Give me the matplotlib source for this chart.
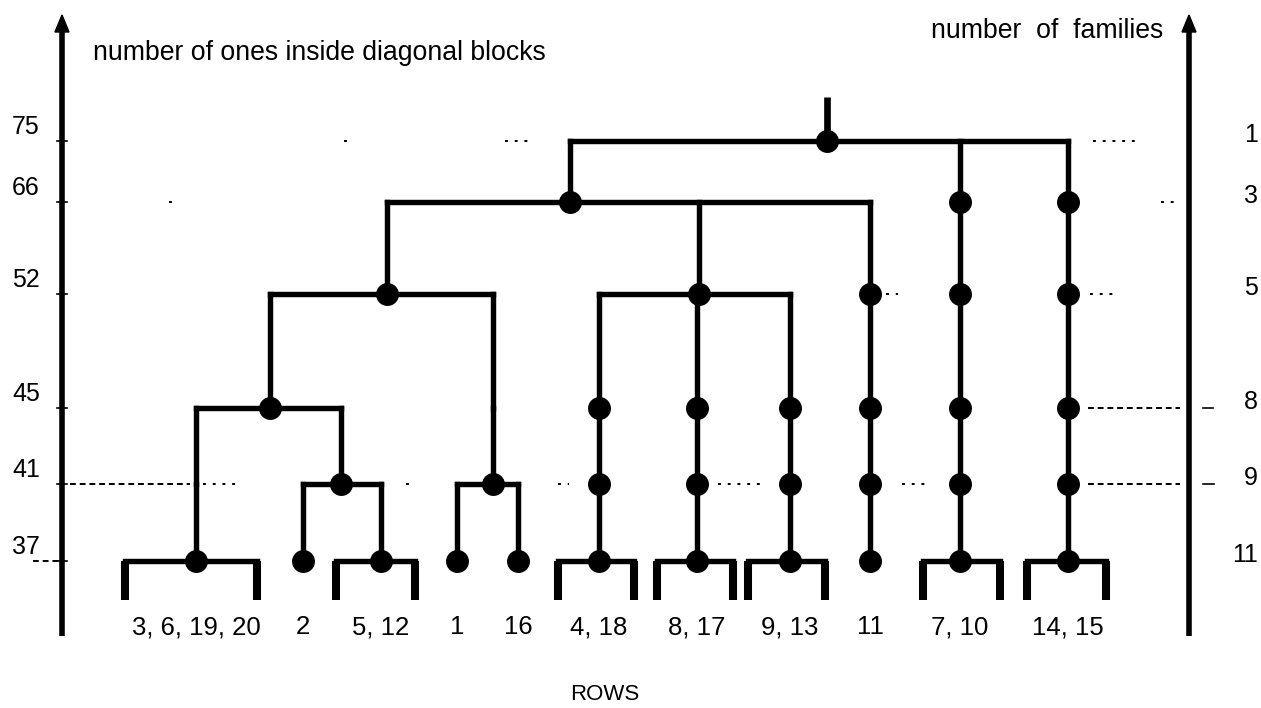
import matplotlib
matplotlib.use("Agg")
import matplotlib.pyplot as plt
from matplotlib.patches import Polygon

plt.rcParams['font.family'] = ['Liberation Sans', 'DejaVu Sans']

# ---------------- data ----------------
levels = [75, 66, 52, 45, 41, 37]            # number of ones inside diagonal blocks
families = [1, 3, 5, 8, 9, 11]               # number of families at each level
leaf_labels = ["3, 6, 19, 20", "2", "5, 12", "1", "16", "4, 18",
               "8, 17", "9, 13", "11", "7, 10", "14, 15"]
# partition of the leaves (row groups) at each level
part_75 = [[0, 1, 2, 3, 4, 5, 6, 7, 8, 9, 10]]
part_66 = [[0, 1, 2, 3, 4, 5, 6, 7, 8], [9], [10]]
part_52 = [[0, 1, 2, 3, 4], [5, 6, 7], [8], [9], [10]]
part_45 = [[0, 1, 2], [3, 4], [5], [6], [7], [8], [9], [10]]
part_41 = [[0], [1, 2], [3, 4], [5], [6], [7], [8], [9], [10]]
part_37 = [[i] for i in range(len(leaf_labels))]
partitions = [part_75, part_66, part_52, part_45, part_41, part_37]
# clusters drawn without a dot at a level
no_dot = [(41, (0,)), (45, (3, 4))]

# ---------------- layout (pixels) ----------------
W, H = 1261, 708
level_y = [141, 202, 294, 408, 484, 561]
leaf_x = [196, 303, 381, 457, 518, 599, 697, 790, 870, 960, 1068]
bracket_span = [(125, 257), None, (336, 415), None, None, (558, 634),
                (657, 733), (748, 825), None, (923, 1000), (1027, 1106)]
node_x_fix = {(41, (1, 2)): 341, (41, (3, 4)): 493, (45, (0, 1, 2)): 270,
              (52, (0, 1, 2, 3, 4)): 387, (52, (5, 6, 7)): 699,
              (66, (0, 1, 2, 3, 4, 5, 6, 7, 8)): 570,
              (75, tuple(range(11))): 827}
leg_bottom = 600
stub_top = 97
left_ax_x, right_ax_x = 62, 1189
ax_bottom, ax_top = 636, 15

fig = plt.figure(figsize=(W / 100, H / 100), dpi=100)
ax = fig.add_axes([0, 0, 1, 1])
ax.set_xlim(0, W)
ax.set_ylim(H, 0)
ax.axis('off')

LW = 3.9
ypos = dict(zip(levels, level_y))

# node positions
node = {}
for i, x in enumerate(leaf_x):
    node[(levels[-1], (i,))] = x
for li in range(len(levels) - 2, -1, -1):
    lv, lo = levels[li], levels[li + 1]
    for cl in partitions[li]:
        key = (lv, tuple(cl))
        kids = [tuple(c) for c in partitions[li + 1] if set(c) <= set(cl)]
        kx = [node[(lo, k)] for k in kids]
        if len(kids) == 1:
            node[key] = kx[0]
        else:
            node[key] = node_x_fix.get(key, (min(kx) + max(kx)) / 2)
        for x in kx:
            ax.plot([x, x], [ypos[lo], ypos[lv]], color='black', lw=LW,
                    solid_capstyle='projecting', zorder=2)
        if len(kids) > 1:
            ax.plot([min(kx), max(kx)], [ypos[lv], ypos[lv]], color='black',
                    lw=LW, solid_capstyle='projecting', zorder=2)

# dots
for (lv, cl), x in node.items():
    if (lv, cl) in no_dot:
        continue
    ax.plot([x], [ypos[lv]], marker='o', ms=15.5, color='black', zorder=3)

# top stub
top_x = node[(levels[0], tuple(range(11)))]
ax.plot([top_x, top_x], [ypos[levels[0]], stub_top], color='black', lw=4.8,
        solid_capstyle='butt', zorder=2)

# leaf brackets
yb = ypos[levels[-1]]
for span in bracket_span:
    if span is None:
        continue
    l, r = span
    ax.plot([l, r], [yb, yb], color='black', lw=LW, solid_capstyle='projecting')
    for x in (l, r):
        ax.plot([x, x], [yb, leg_bottom], color='black', lw=5.8,
                solid_capstyle='butt')

# leaf labels
for x, lab in zip(leaf_x, leaf_labels):
    ax.text(x, 627, lab, ha='center', va='center', fontsize=18.5)

# vertical axes with arrows
for xa in (left_ax_x, right_ax_x):
    ax.plot([xa, xa], [ax_bottom, ax_top + 12], color='black', lw=4.0,
            solid_capstyle='butt')
    ax.add_patch(Polygon([[xa - 7, ax_top + 17], [xa, ax_top], [xa + 7, ax_top + 17]],
                         closed=True, color='black'))

# small ticks on left axis
for y in level_y:
    ax.plot([left_ax_x - 5, left_ax_x + 5], [y, y], color='black', lw=1.2)

# level value labels (left) and family counts (right)
for y, v in zip(level_y, levels):
    ax.text(12, y - 14, str(v), ha='left', va='center', fontsize=18)
for y, f in zip(level_y, families):
    ax.text(1258, y - 6, str(f), ha='right', va='center', fontsize=18)

# faint dashed / dotted guide remnants (level, x0, x1, style)
guides = [(75, 344, 348, ':'), (75, 505, 531, ':'), (75, 1093, 1139, ':'),
          (66, 169, 173, ':'), (66, 1161, 1175, ':'),
          (52, 886, 898, ':'), (52, 1090, 1115, ':'),
          (45, 1088, 1180, '--'), (45, 1203, 1213, '-'),
          (41, 70, 190, '--'), (41, 203, 240, ':'), (41, 406, 410, ':'),
          (41, 558, 569, ':'), (41, 718, 765, ':'), (41, 902, 928, ':'),
          (41, 1088, 1180, '--'), (41, 1203, 1214, '-'),
          (37, 33, 58, '--')]
for lv, x0, x1, ls in guides:
    if ls == '-':
        ax.plot([x0, x1], [ypos[lv], ypos[lv]], color='black', lw=1.2, zorder=1)
    else:
        ax.plot([x0, x1], [ypos[lv], ypos[lv]], color='black', lw=1.4,
                dashes=(3, 2) if ls == '--' else (1.5, 3.5), zorder=1)

# titles
t1 = ax.text(93, 53, "number of ones inside diagonal blocks", ha='left',
             va='center', fontsize=17)
t2 = ax.text(1163, 31, "number  of  families", ha='right', va='center',
             fontsize=17)
fig.canvas.draw()
r = fig.canvas.get_renderer()
for t, target in ((t1, 455), (t2, 233)):
    w = t.get_window_extent(r).width
    t.set_fontsize(17 * target / w)
ax.text(605, 694, "ROWS", ha='center', va='center', fontsize=16)

fig.savefig("out.png", dpi=100)
